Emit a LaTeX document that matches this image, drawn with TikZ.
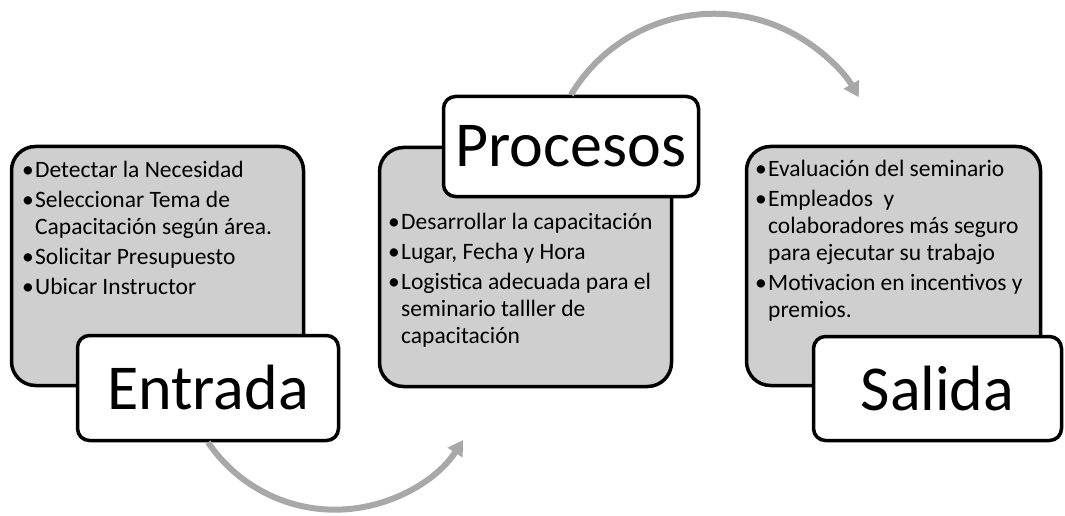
\documentclass[tikz,border=0pt]{standalone}
\usepackage{fontspec}
\setmainfont{Carlito}
\usetikzlibrary{arrows.meta}
\newcommand{\bul}{\makebox[13pt][l]{•}}
\newcommand{\cnt}{\hspace*{13pt}}

\begin{document}
\begin{tikzpicture}[x=1pt, y=1pt,
  greybox/.style={draw=black, line width=3.5pt, fill=black!19, rounded corners=24pt, inner sep=0pt},
  titlebox/.style={draw=black, line width=3.5pt, fill=white, rounded corners=12pt, inner sep=0pt, font=\fontsize{64}{70}\selectfont},
  itemtext/.style={anchor=north west, inner sep=0pt, align=left, font=\fontsize{23.5}{27}\selectfont},
  flowarrow/.style={draw=black!34, line width=6pt, -{Triangle[length=15pt, width=17pt]}}]
\useasboundingbox (0,0) rectangle (1065,515);
\node[greybox, minimum width=292pt, minimum height=239pt] (entbox) at (157.5,249) {};
\node[itemtext] (enttext) at (22,354) {\bul Detectar la Necesidad\\[3pt]
\bul Seleccionar Tema de\\
\cnt Capacitación según área.\\[3pt]
\bul Solicitar Presupuesto\\[3pt]
\bul Ubicar Instructor};
\node[titlebox, minimum width=261pt, minimum height=105pt] (entrada) at (208,127) {Entrada};
\node[greybox, minimum width=292pt, minimum height=239pt] (probox) at (525.5,248) {};
\node[itemtext] (protext) at (388,302) {\bul Desarrollar la capacitación\\[3pt]
\bul Lugar, Fecha y Hora\\[3pt]
\bul Logistica adecuada para el\\
\cnt seminario talller de\\
\cnt capacitación};
\node[titlebox, minimum width=255pt, minimum height=100pt] (procesos) at (571,368.5) {Procesos};
\node[greybox, minimum width=294pt, minimum height=239pt] (salbox) at (893.5,249) {};
\node[itemtext] (saltext) at (755,355) {\bul Evaluación del seminario\\[3pt]
\bul Empleados~ y\\
\cnt colaboradores más seguro\\
\cnt para ejecutar su trabajo\\[3pt]
\bul Motivacion en incentivos y\\
\cnt premios.};
\node[titlebox, minimum width=248pt, minimum height=104pt] (salida) at (937.5,126.5) {Salida};
\draw[flowarrow] (entrada.south) arc[start angle=214, end angle=327, radius=153];
\draw[flowarrow] (procesos.north) arc[start angle=149, end angle=30, radius=167];
\end{tikzpicture}
\end{document}
